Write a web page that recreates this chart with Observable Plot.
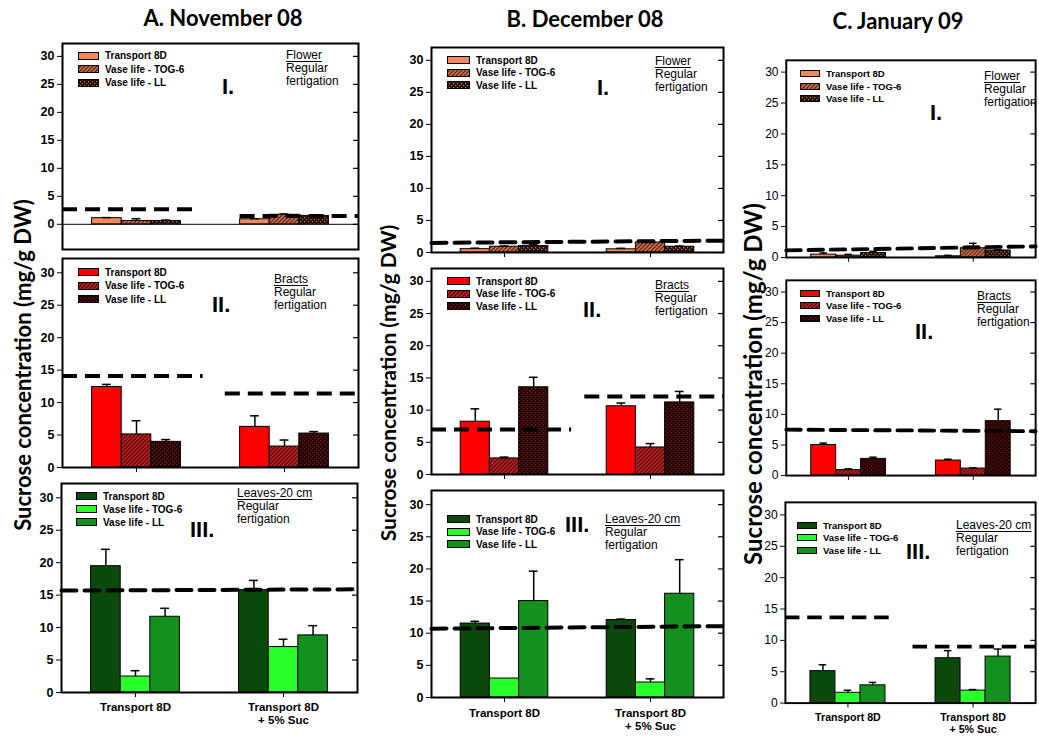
<!DOCTYPE html>
<html><head><meta charset="utf-8">
<script src="https://cdn.jsdelivr.net/npm/d3@7"></script>
<script src="https://cdn.jsdelivr.net/npm/@observablehq/plot@0.6"></script>
<style>
html,body{margin:0;padding:0;background:#fff}
body{width:1039px;height:742px;overflow:hidden;position:relative;font-family:"Liberation Sans",Arial,sans-serif;color:#000}
.abs{position:absolute}
.title{font-family:Lato,sans-serif;font-weight:700;font-size:22px;white-space:nowrap;transform:translate(-50%,-50%)}
.ylab{font-family:Lato,sans-serif;font-weight:700;white-space:nowrap;transform:translate(-50%,-50%) rotate(-90deg)}
.legrow{display:flex;align-items:center;font-weight:bold;white-space:nowrap}
.legrow svg{margin-right:6px;flex:none}
.note{font-size:12px;line-height:13px;white-space:nowrap}
.note u{text-decoration-thickness:1px;text-underline-offset:2px}
.roman{font-weight:bold;font-size:22px;line-height:22px;transform:translateY(-50%)}
</style></head>
<body>
<svg width="0" height="0" style="position:absolute">
 <defs>
  <pattern id="flTOG" width="4" height="4" patternUnits="userSpaceOnUse">
   <rect width="4" height="4" fill="#D97651"/>
   <path d="M-1,1 L1,-1 M0,4 L4,0 M3,5 L5,3" stroke="#5A2412" stroke-width="1.3"/>
  </pattern>
  <pattern id="flLL" width="4" height="4" patternUnits="userSpaceOnUse">
   <rect width="4" height="4" fill="#1E0C06"/>
   <rect x="0" y="0" width="1.2" height="1.2" fill="#D9784F"/>
   <rect x="2" y="2" width="1.2" height="1.2" fill="#D9784F"/>
  </pattern>
  <pattern id="brTOG" width="4" height="4" patternUnits="userSpaceOnUse">
   <rect width="4" height="4" fill="#640B0B"/>
   <path d="M-1,1 L1,-1 M0,4 L4,0 M3,5 L5,3" stroke="#D62A2A" stroke-width="1.1"/>
  </pattern>
  <pattern id="brLL" width="4" height="4" patternUnits="userSpaceOnUse">
   <rect width="4" height="4" fill="#140202"/>
   <rect x="0" y="0" width="1.3" height="1.3" fill="#A01212"/>
   <rect x="2" y="2" width="1.3" height="1.3" fill="#A01212"/>
  </pattern>
 </defs>
</svg>
<script>
// ---------- data ----------
const months = ["A. November 08", "B. December 08", "C. January 09"];
const tissues = ["Flower", "Bracts", "Leaves-20 cm"];
const romans = ["I.", "II.", "III."];
const series = ["Transport 8D", "Vase life - TOG-6", "Vase life - LL"];
const groups = ["Transport 8D", "Transport 8D\n+ 5% Suc"];
const yTicks = [0, 5, 10, 15, 20, 25, 30];
const yLabel = "Sucrose concentration (mg/g DW)";
const noteLines = ["Regular", "fertigation"];

// mean values [group][series], error (upper SD), dashed reference per group
const novFlowerMean = [[1.1, 0.6, 0.6], [0.9, 1.7, 1.5]];
const novFlowerErr  = [[0.1, 0.4, 0.15], [0.1, 0.15, 0.2]];
const novFlowerRef  = [2.7, 1.5];
const novBractsMean = [[12.4, 5.1, 3.95], [6.26, 3.23, 5.23]];
const novBractsErr  = [[0.4, 2.1, 0.35], [1.7, 1.0, 0.3]];
const novBractsRef  = [14.1, 11.4];
const novLeavesMean = [[19.46, 2.46, 11.67], [15.77, 7.0, 8.8]];
const novLeavesErr  = [[2.6, 0.9, 1.3], [1.5, 1.2, 1.5]];
const novLeavesRef  = [15.7, 15.9];

const decFlowerMean = [[0.52, 0.9, 1.0], [0.5, 1.56, 0.9]];
const decFlowerErr  = [[0.15, 0.1, 0.3], [0.15, 0.3, 0.1]];
const decFlowerRef  = [1.5, 1.85];
const decBractsMean = [[8.2, 2.5, 13.55], [10.6, 4.2, 11.2]];
const decBractsErr  = [[2.0, 0.2, 1.55], [0.5, 0.6, 1.7]];
const decBractsRef  = [7.0, 12.1];
const decLeavesMean = [[11.5, 2.95, 15.0], [12.05, 2.33, 16.14]];
const decLeavesErr  = [[0.35, 0, 4.65], [0.15, 0.57, 5.3]];
const decLeavesRef  = [10.7, 11.1];

const janFlowerMean = [[0.47, 0.3, 0.73], [0.2, 1.5, 1.14]];
const janFlowerErr  = [[0.26, 0.2, 0.27], [0.15, 0.8, 0.11]];
const janFlowerRef  = [1.15, 1.8];
const janBractsMean = [[5.0, 0.9, 2.73], [2.46, 1.15, 8.9]];
const janBractsErr  = [[0.3, 0.2, 0.27], [0.21, 0.11, 1.95]];
const janBractsRef  = [7.5, 7.25];
const janLeavesMean = [[5.1, 1.65, 2.84], [7.16, 2.0, 7.42]];
const janLeavesErr  = [[1.0, 0.4, 0.46], [1.2, 0.16, 1.2]];
const janLeavesRef  = [13.66, 9.0];

// ---------- styles & layout ----------
const fills = [
  ["#F4895C", "url(#flTOG)", "url(#flLL)"],
  ["#FF0000", "url(#brTOG)", "url(#brLL)"],
  ["#0B4A0B", "#2BFF2B", "#14901F"]
];
// frame: left, top, width, height, yMin, yMax ; legend x,y,step ; note x,y ; roman x,y ; dashed break (null = continuous)
const layout = [
  [
    {f:[62,43,296,206,-4.5,32.3], lg:[16,13,13.3], nt:[224,12], rm:[160,44], brk:[0.88,1.2], xt:false},
    {f:[62,258,296,209,0,32.2],  lg:[16,14,13.5], nt:[212,21], rm:[150,47], brk:[0.95,1.1], xt:true},
    {f:[61,483,296,209,0,32.2],  lg:[15,13,13],   nt:[176,10], rm:[129,47], brk:null, xt:true}
  ],
  [
    {f:[431,47,292,205,0,32.0],  lg:[16,13,12.5], nt:[224,14], rm:[166,41], brk:null, xt:true},
    {f:[431,268,292,206,0,32.0], lg:[16,13,12.5], nt:[224,17], rm:[152,42], brk:[0.96,1.05], xt:true},
    {f:[431,490,292,207,0,32.2], lg:[16,29,12.5], nt:[174,29], rm:[134,35], brk:null, xt:true}
  ],
  [
    {f:[787,60,258,204,0,31.9],  lg:[13,14,12.3], nt:[197,16], rm:[143,53], brk:null, xt:true},
    {f:[787,280,258,202,0,31.9], lg:[13,13,12.5], nt:[190,16], rm:[128,52], brk:null, xt:true},
    {f:[786,502,258,207,0,32.0], lg:[11,23,12.5], nt:[170,23], rm:[120,50], brk:[0.86,1.02], xt:true}
  ]
];
const colStyle = [
  {tickWeight:"bold", tickSize:12.5, legFont:10, swW:21, swH:8, grpFont:11.5, grpDy:9, titleX:223, titleY:17, yl:[22,365,22]},
  {tickWeight:"bold", tickSize:12.5, legFont:10, swW:23, swH:8, grpFont:11.5, grpDy:10, titleX:585, titleY:18, yl:[387,383,21]},
  {tickWeight:"normal", tickSize:12.5, legFont:9.5, swW:20, swH:7, grpFont:11, grpDy:9, titleX:898, titleY:20, yl:[752,384,24]}
];

const panels = [
  [[novFlowerMean, novFlowerErr, novFlowerRef], [novBractsMean, novBractsErr, novBractsRef], [novLeavesMean, novLeavesErr, novLeavesRef]],
  [[decFlowerMean, decFlowerErr, decFlowerRef], [decBractsMean, decBractsErr, decBractsRef], [decLeavesMean, decLeavesErr, decLeavesRef]],
  [[janFlowerMean, janFlowerErr, janFlowerRef], [janBractsMean, janBractsErr, janBractsRef], [janLeavesMean, janLeavesErr, janLeavesRef]]
];

const body = document.body;
function addDiv(cls, left, top, html, extra) {
  const d = document.createElement("div");
  d.className = "abs " + cls;
  d.style.left = left + "px";
  d.style.top = top + "px";
  d.innerHTML = html;
  if (extra) Object.assign(d.style, extra);
  body.appendChild(d);
  return d;
}

const barW = 0.2;
function drawPanel(col, row) {
  const [mean, err, ref] = panels[col][row];
  const L = layout[col][row];
  const cs = colStyle[col];
  const [fl, ft, fw, fh, yMin, yMax] = L.f;
  const mL = 36, mR = 4, mT = 4, mB = row === 2 ? 48 : 10;
  const rows = [];
  mean.forEach((g, gi) => g.forEach((v, si) => rows.push({gi, si, v, e: err[gi][si], fill: fills[row][si]})));
  const left = d => d.gi + 0.5 - 1.5 * barW + barW * d.si;
  const center = d => left(d) + barW / 2;
  const withErr = rows.filter(d => d.e > 0);
  const marks = [];
  if (yMin < 0) marks.push(Plot.ruleY([0], {stroke: "#000", strokeWidth: 1}));
  marks.push(
    Plot.rect(rows, {x1: left, x2: d => left(d) + barW, y1: 0, y2: "v", fill: "fill", stroke: "#000", strokeWidth: 1}),
    Plot.ruleX(withErr, {x: center, y1: "v", y2: d => d.v + d.e, stroke: "#000", strokeWidth: 1.5}),
    Plot.ruleY(withErr, {y: d => d.v + d.e, x1: d => center(d) - 0.03, x2: d => center(d) + 0.03, stroke: "#000", strokeWidth: 1.5})
  );
  const dash = {stroke: "#000", strokeWidth: 4, strokeDasharray: "15,8"};
  if (L.brk) {
    marks.push(Plot.ruleY(ref, {y: d => d, x1: (d, i) => i === 0 ? 0 : L.brk[1], x2: (d, i) => i === 0 ? L.brk[0] : groups.length, ...dash}));
  } else {
    marks.push(Plot.line(ref.map((v, i) => ({x: i * groups.length, y: v})), {x: "x", y: "y", ...dash}));
  }
  // inner ticks on the right side
  marks.push(Plot.ruleY(yTicks, {y: d => d, insetLeft: fw - 5, stroke: "#000", strokeWidth: 1.2}));
  // y tick labels
  marks.push(Plot.text(yTicks, {y: d => d, text: d => String(d), frameAnchor: "left", dx: -8, textAnchor: "end",
    fontSize: cs.tickSize, fontWeight: cs.tickWeight, fill: "#000"}));
  if (row === 2) {
    marks.push(Plot.text(groups, {x: (d, i) => i + 0.5, text: d => d, frameAnchor: "bottom", dy: cs.grpDy, lineAnchor: "top",
      lineHeight: 1.15, fontSize: cs.grpFont, fontWeight: "bold", fill: "#000"}));
  }
  marks.push(Plot.frame({stroke: "#000", strokeWidth: 2}));

  const svg = Plot.plot({
    width: mL + fw + mR,
    height: mT + fh + mB,
    marginLeft: mL, marginRight: mR, marginTop: mT, marginBottom: mB,
    style: {background: "transparent", overflow: "visible", fontFamily: "'Liberation Sans', Arial, sans-serif", color: "#000"},
    x: {domain: [0, groups.length], axis: L.xt ? "bottom" : null, ticks: groups.map((g, i) => i + 0.5), tickFormat: () => "", tickSize: 5, label: null},
    y: {domain: [yMin, yMax], ticks: yTicks, tickFormat: () => "", tickSize: 5, label: null},
    color: {type: "identity"},
    marks
  });
  const holder = addDiv("", fl - mL, ft - mT, "");
  holder.appendChild(svg);

  // legend
  const [lx, ly, ls] = L.lg;
  series.forEach((s, si) => {
    const html = `<svg width="${cs.swW}" height="${cs.swH}"><rect x="0.5" y="0.5" width="${cs.swW - 1}" height="${cs.swH - 1}" fill="${fills[row][si]}" stroke="#000" stroke-width="1"/></svg><span>${s}</span>`;
    addDiv("legrow", fl + lx, ft + ly + si * ls - ls / 2, html, {height: ls + "px", fontSize: cs.legFont + "px"});
  });
  // note
  addDiv("note", fl + L.nt[0], ft + L.nt[1] - 6.5, `<u>${tissues[row]}</u><br>${noteLines.join("<br>")}`);
  // roman numeral
  addDiv("roman", fl + L.rm[0], ft + L.rm[1], romans[row]);
}

for (let c = 0; c < 3; c++) {
  for (let r = 0; r < 3; r++) drawPanel(c, r);
  const cs = colStyle[c];
  addDiv("title", cs.titleX, cs.titleY, months[c]);
  addDiv("ylab", cs.yl[0], cs.yl[1], yLabel, {fontSize: cs.yl[2] + "px"});
}
</script>
</body></html>
